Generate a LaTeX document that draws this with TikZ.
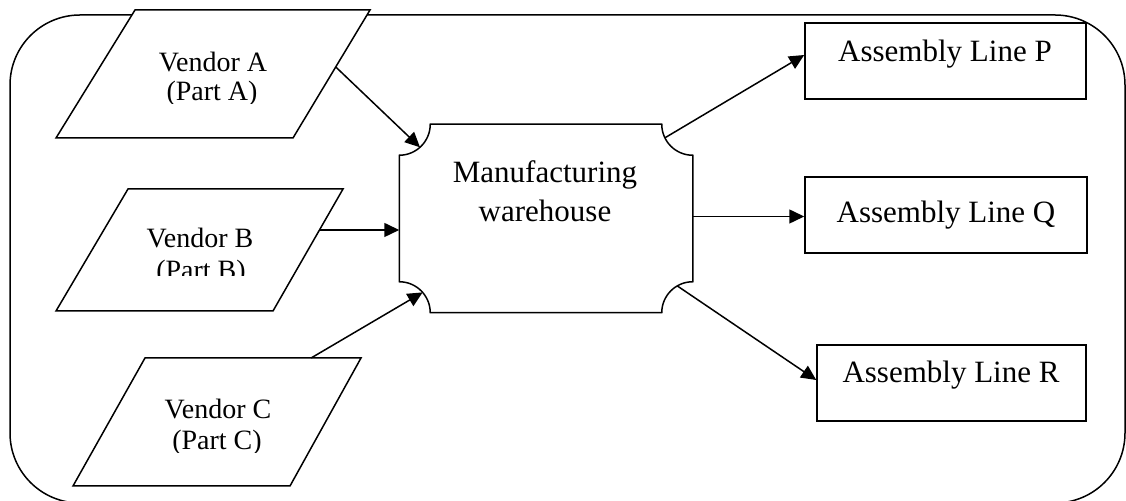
\documentclass[tikz,border=0pt]{standalone}
\usepackage{fontspec}
\setmainfont{Liberation Serif}
\usetikzlibrary{arrows.meta,calc}
\begin{document}
\begin{tikzpicture}[x=0.5pt,y=-0.5pt,line width=0.75pt,
  shapeline/.style={draw=black,fill=white,line width=0.75pt},
  flow/.style={-{Triangle[length=7.5pt,width=7pt]},line width=0.75pt},
  vtext/.style={font=\fontsize{14}{16}\selectfont,anchor=base,inner sep=0pt},
  btext/.style={font=\fontsize{15.5}{18}\selectfont,anchor=base,inner sep=0pt},
  abox/.style={draw=black,fill=white,rectangle,inner sep=0pt,line width=0.75pt,minimum height=38pt},
  ghost/.style={rectangle,inner sep=0pt}]
\useasboundingbox (0,0) rectangle (1126,501);
% outer frame (its bottom edge lies below the picture)
\begin{scope}
\clip (0,0) rectangle (1126,501);
\draw (80,503) arc[start angle=270,end angle=180,radius=35pt] -- (10,85)
  arc[start angle=180,end angle=90,radius=35pt] -- (1055,15)
  arc[start angle=90,end angle=0,radius=35pt] -- (1125,433)
  arc[start angle=0,end angle=-90,radius=35pt];
\end{scope}
% vendor parallelograms
\coordinate (vaTL) at (135,10); \coordinate (vaTR) at (370,10);
\coordinate (vaBR) at (293,138); \coordinate (vaBL) at (56,138);
\draw[shapeline] (vaTL) -- (vaTR) -- (vaBR) -- (vaBL) -- cycle;
\coordinate (vbTL) at (128,189); \coordinate (vbTR) at (343,189);
\coordinate (vbBR) at (273,311); \coordinate (vbBL) at (56,311);
\draw[shapeline] (vbTL) -- (vbTR) -- (vbBR) -- (vbBL) -- cycle;
\coordinate (vcTL) at (145,358); \coordinate (vcTR) at (361,358);
\coordinate (vcBR) at (290,486); \coordinate (vcBL) at (73,486);
\draw[shapeline] (vcTL) -- (vcTR) -- (vcBR) -- (vcBL) -- cycle;
% warehouse
\node[ghost,minimum width=146pt,minimum height=93.5pt] (wh) at (546,218.5) {};
\draw[shapeline] ([xshift=15.5pt]wh.north west) -- ([xshift=-15.5pt]wh.north east)
  arc[start angle=180,end angle=270,radius=15.5pt]
  -- ([yshift=15.5pt]wh.south east)
  arc[start angle=90,end angle=180,radius=15.5pt]
  -- ([xshift=15.5pt]wh.south west)
  arc[start angle=0,end angle=90,radius=15.5pt]
  -- ([yshift=-15.5pt]wh.north west)
  arc[start angle=270,end angle=360,radius=15.5pt] -- cycle;
% assembly boxes
\node[abox,minimum width=140.5pt] (ap) at (945.5,61) {};
\node[abox,minimum width=141pt] (aq) at (946,215) {};
\node[abox,minimum width=134.5pt] (ar) at (951.5,383) {};
% connector end points
\coordinate (vaOut) at ($(vaTR)!0.445!(vaBR)$);
\coordinate (vbOut) at ($(vbTR)!0.336!(vbBR)$);
\coordinate (vcOut) at ($(vcTL)!0.769!(vcTR)$);
\coordinate (whA) at ([shift={(312:15.5pt)}]wh.north west);
\coordinate (whC) at ([shift={(41:15.5pt)}]wh.south west);
\coordinate (whP) at ([shift={(206:15.5pt)}]wh.north east);
\coordinate (whR) at ([shift={(120:15.5pt)}]wh.south east);
\coordinate (whQ) at ([yshift=1pt]wh.east);
% connectors
\draw[flow] (vaOut) -- (whA);
\draw[flow] (vbOut) -- (vbOut -| wh.west);
\draw[flow] (vcOut) -- (whC);
\draw[flow] (whP) -- ([yshift=3pt]ap.west);
\draw[flow] (whQ) -- (whQ -| aq.west);
\draw[flow] (whR) -- ([yshift=1.5pt]ar.west);
% texts
\node[vtext] (vat1) at (213,72) {Vendor A};
\begin{scope}
\clip (0,0) rectangle (1126,104);
\node[vtext] (vat2) at (212,101) {(Part A)};
\end{scope}
\node[vtext] (vbt1) at (200,248) {Vendor B};
\begin{scope}
\clip (0,0) rectangle (1126,276);
\node[vtext] (vbt2) at (201,280) {(Part B)};
\end{scope}
\node[vtext] (vct1) at (218,419) {Vendor C};
\begin{scope}
\clip (0,0) rectangle (1126,453);
\node[vtext] (vct2) at (217,450) {(Part C)};
\end{scope}
\node[btext] (wht1) at (545,183) {Manufacturing};
\node[btext] (wht2) at (545,222) {warehouse};
\node[btext] (apt) at (945,62) {Assembly Line P};
\node[btext] (aqt) at (946,223) {Assembly Line Q};
\node[btext] (art) at (951,383) {Assembly Line R};
\end{tikzpicture}
\end{document}
